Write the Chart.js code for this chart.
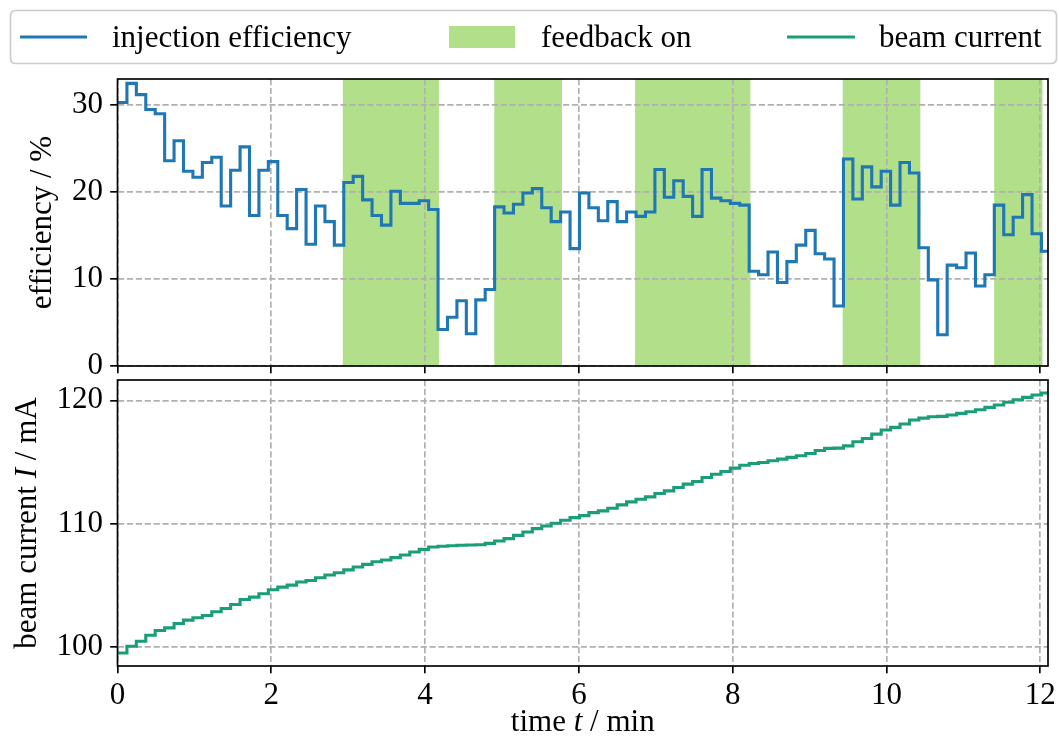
<!DOCTYPE html>
<html>
<head>
<meta charset="utf-8">
<title>Injection efficiency and beam current</title>
<script src="https://cdn.jsdelivr.net/npm/chart.js@4.4.1/dist/chart.umd.min.js"></script>
<style>
  html, body { margin: 0; padding: 0; background: #ffffff; }
  #wrap { position: relative; width: 1059px; height: 747px; overflow: hidden; }
  #wrap canvas { position: absolute; left: 0; }
  #effCanvas { top: 0; width: 1059px; height: 376px; }
  #curCanvas { top: 376px; width: 1059px; height: 371px; }
</style>
</head>
<body>
<div id="wrap">
  <canvas id="effCanvas" width="1059" height="376"></canvas>
  <canvas id="curCanvas" width="1059" height="371"></canvas>
</div>
<script>
// ---- data -----------------------------------------------------------
const SAMPLE_MIN = 0.1226;   // logging interval in minutes
const T_END = 12.1;          // end of the recording, min

// injection efficiency in %, one value per logging interval
const efficiency = [
  30.3, 32.5, 31.2, 29.5, 29.0, 23.6, 25.9, 22.4, 21.7, 23.4,
  24.0, 18.4, 22.5, 25.2, 17.3, 22.5, 23.5, 17.3, 15.8, 20.3,
  14.0, 18.4, 16.6, 13.9, 21.1, 21.8, 19.1, 17.3, 16.2, 20.1,
  18.7, 18.7, 19.0, 18.0,  4.2,  5.6,  7.5,  3.7,  7.6,  8.8,
  18.3, 17.6, 18.6, 19.9, 20.4, 18.2, 16.6, 17.7, 13.5, 19.9,
  18.2, 16.7, 18.9, 16.6, 17.7, 17.2, 17.7, 22.6, 19.4, 21.3,
  19.5, 17.2, 22.6, 19.3, 19.0, 18.7, 18.5, 10.9, 10.5, 13.1,
   9.6, 12.0, 13.9, 15.6, 12.9, 12.3,  6.9, 23.8, 19.2, 22.9,
  20.6, 22.4, 18.5, 23.4, 22.2, 13.6,  9.9,  3.6, 11.6, 11.3,
  13.0,  9.2, 10.5, 18.5, 15.1, 17.1, 19.7, 15.2, 13.2
];

// stored beam current in mA, same logging intervals
const beamCurrent = [
   99.51, 100.05, 100.46, 100.95, 101.33, 101.54, 101.90, 102.17, 102.36, 102.55,
  102.85, 103.12, 103.44, 103.85, 104.04, 104.31, 104.63, 104.85, 105.01, 105.26,
  105.39, 105.61, 105.83, 106.02, 106.25, 106.48, 106.69, 106.91, 107.05, 107.24,
  107.45, 107.70, 107.91, 108.10, 108.16, 108.21, 108.24, 108.27, 108.29, 108.40,
  108.59, 108.78, 109.05, 109.32, 109.59, 109.81, 110.03, 110.27, 110.49, 110.65,
  110.89, 111.03, 111.25, 111.52, 111.76, 111.98, 112.17, 112.44, 112.66, 112.93,
  113.20, 113.42, 113.74, 114.01, 114.23, 114.50, 114.74, 114.88, 114.96, 115.10,
  115.23, 115.37, 115.50, 115.69, 115.93, 116.10, 116.12, 116.31, 116.64, 116.91,
  117.26, 117.59, 117.81, 118.08, 118.40, 118.56, 118.67, 118.70, 118.81, 118.94,
  119.08, 119.24, 119.43, 119.62, 119.84, 120.05, 120.24, 120.43, 120.60
];

// periods with the feedback loop switched on, min
const feedbackStart = [2.93, 4.90, 6.73, 9.43, 11.40];
const feedbackEnd   = [4.18, 5.78, 8.23, 10.44, 12.03];

// tick labels
const timeTicks    = [0, 2, 4, 6, 8, 10, 12];
const effTicks     = [0, 10, 20, 30];
const currentTicks = [100, 110, 120];

// ---- styling ---------------------------------------------------------
const FONT = '"Liberation Serif", "DejaVu Serif", serif';
const FS = 31;
const BLUE = '#1f77b4';
const TEAL = '#1b9e77';
const BAND = '#b2df8a';
const GRID = '#b0b0b0';
const LW = 3.1;
const SPINE = 1.67;
const TICK_LEN = 7.3;

Chart.defaults.font.family = FONT;
Chart.defaults.font.size = FS;
Chart.defaults.color = '#000000';

// step series: each value holds until the next sample, the last one until T_END
function stepPoints(values) {
  const pts = values.map((v, i) => ({ x: i * SAMPLE_MIN, y: v }));
  pts.push({ x: T_END, y: values[values.length - 1] });
  return pts;
}

function setTicks(list) {
  return scale => { scale.ticks = list.map(v => ({ value: v })); };
}

// fixed axis box size, no extra room for overhanging labels
function fixedSize(prop, size) {
  return scale => {
    scale[prop] = size;
    scale.paddingTop = 0;
    scale.paddingBottom = 0;
    scale.paddingLeft = 0;
    scale.paddingRight = 0;
  };
}

function gridOpts() {
  return {
    color: GRID,
    lineWidth: 1.67,
    drawTicks: true,
    tickLength: TICK_LEN,
    tickColor: '#000000',
    tickWidth: SPINE,
    tickBorderDash: []
  };
}

// draws a label made of roman / italic pieces
function drawRich(ctx, parts, x, y, rotate) {
  ctx.save();
  ctx.translate(x, y);
  ctx.rotate(rotate || 0);
  ctx.textBaseline = 'alphabetic';
  ctx.textAlign = 'left';
  ctx.fillStyle = '#000000';
  const fonts = parts.map(p => (p.italic ? 'italic ' : '') + FS + 'px ' + FONT);
  let total = 0;
  const widths = parts.map((p, i) => {
    ctx.font = fonts[i];
    const w = ctx.measureText(p.text).width;
    total += w;
    return w;
  });
  let cx = -total / 2;
  parts.forEach((p, i) => {
    ctx.font = fonts[i];
    ctx.fillText(p.text, cx, 0);
    cx += widths[i];
  });
  ctx.restore();
}

// shaded feedback periods, under the grid
const feedbackBands = {
  id: 'feedbackBands',
  beforeDraw(chart) {
    const { ctx, chartArea: a, scales: { x } } = chart;
    ctx.save();
    ctx.beginPath();
    ctx.rect(a.left, a.top, a.right - a.left, a.bottom - a.top);
    ctx.clip();
    ctx.fillStyle = BAND;
    feedbackStart.forEach((s, i) => {
      const x1 = x.getPixelForValue(s);
      const x2 = x.getPixelForValue(feedbackEnd[i]);
      ctx.fillRect(x1, a.top, x2 - x1, a.bottom - a.top);
    });
    ctx.restore();
  }
};

// full box round the plotting area
const axesFrame = {
  id: 'axesFrame',
  afterDraw(chart) {
    const { ctx, chartArea: a } = chart;
    ctx.save();
    ctx.strokeStyle = '#000000';
    ctx.lineWidth = SPINE;
    ctx.strokeRect(a.left, a.top, a.right - a.left, a.bottom - a.top);
    ctx.restore();
  }
};

// shared legend across the top of the figure
const figureLegend = {
  id: 'figureLegend',
  afterDraw(chart) {
    const ctx = chart.ctx;
    ctx.save();
    ctx.beginPath();
    ctx.roundRect(10.5, 10.5, 1046, 53, 5);
    ctx.fillStyle = 'rgba(255,255,255,0.8)';
    ctx.fill();
    ctx.strokeStyle = '#cccccc';
    ctx.lineWidth = 1.67;
    ctx.stroke();

    ctx.lineCap = 'butt';
    ctx.lineWidth = LW;
    ctx.strokeStyle = BLUE;
    ctx.beginPath(); ctx.moveTo(20, 37); ctx.lineTo(87, 37); ctx.stroke();
    ctx.fillStyle = BAND;
    ctx.fillRect(449, 26, 66, 22);
    ctx.strokeStyle = TEAL;
    ctx.beginPath(); ctx.moveTo(787, 37); ctx.lineTo(855, 37); ctx.stroke();

    ctx.fillStyle = '#000000';
    ctx.font = FS + 'px ' + FONT;
    ctx.textBaseline = 'alphabetic';
    ctx.textAlign = 'left';
    ctx.fillText('injection efficiency', 112, 47);
    ctx.fillText('feedback on', 541, 47);
    ctx.fillText('beam current', 879, 47);
    ctx.restore();
  }
};

const effTitle = {
  id: 'effTitle',
  afterDraw(chart) {
    const a = chart.chartArea;
    drawRich(chart.ctx, [{ text: 'efficiency / %' }], 51, (a.top + a.bottom) / 2, -Math.PI / 2);
  }
};

const curTitles = {
  id: 'curTitles',
  afterDraw(chart) {
    const a = chart.chartArea;
    drawRich(chart.ctx,
      [{ text: 'beam current ' }, { text: 'I', italic: true }, { text: ' / mA' }],
      36, (a.top + a.bottom) / 2, -Math.PI / 2);
    drawRich(chart.ctx,
      [{ text: 'time ' }, { text: 't', italic: true }, { text: ' / min' }],
      (a.left + a.right) / 2, 355, 0);
  }
};

function baseOptions(yMin, yMax, yTickList, showXLabels, pad, xHeight) {
  return {
    responsive: false,
    animation: false,
    devicePixelRatio: 1,
    layout: { padding: pad },
    plugins: { legend: { display: false }, tooltip: { enabled: false } },
    elements: { point: { radius: 0 } },
    scales: {
      x: {
        type: 'linear',
        min: 0,
        max: T_END,
        afterBuildTicks: setTicks(timeTicks),
        afterFit: fixedSize('height', xHeight),
        grid: gridOpts(),
        border: { display: false, dash: [6.2, 2.7] },
        ticks: {
          display: showXLabels,
          padding: 4,
          color: '#000000',
          font: { family: FONT, size: FS },
          maxRotation: 0,
          autoSkip: false
        }
      },
      y: {
        type: 'linear',
        min: yMin,
        max: yMax,
        afterBuildTicks: setTicks(yTickList),
        afterFit: fixedSize('width', 117.5),
        grid: gridOpts(),
        border: { display: false, dash: [6.2, 2.7] },
        ticks: {
          padding: 7.3,
          color: '#000000',
          font: { family: FONT, size: FS },
          autoSkip: false
        }
      }
    }
  };
}

new Chart(document.getElementById('effCanvas'), {
  type: 'line',
  data: {
    datasets: [{
      label: 'injection efficiency',
      data: stepPoints(efficiency),
      stepped: 'before',
      borderColor: BLUE,
      borderWidth: LW,
      fill: false,
      pointRadius: 0
    }]
  },
  options: baseOptions(0, 33, effTicks, false, { top: 79, left: 0, right: 11, bottom: 10 }, 0),
  plugins: [feedbackBands, axesFrame, figureLegend, effTitle]
});

new Chart(document.getElementById('curCanvas'), {
  type: 'line',
  data: {
    datasets: [{
      label: 'beam current',
      data: stepPoints(beamCurrent),
      stepped: 'before',
      borderColor: TEAL,
      borderWidth: LW,
      fill: false,
      pointRadius: 0
    }]
  },
  options: baseOptions(98.45, 121.65, currentTicks, true, { top: 4, left: 0, right: 11, bottom: 0 }, 81),
  plugins: [axesFrame, curTitles]
});
</script>
</body>
</html>
